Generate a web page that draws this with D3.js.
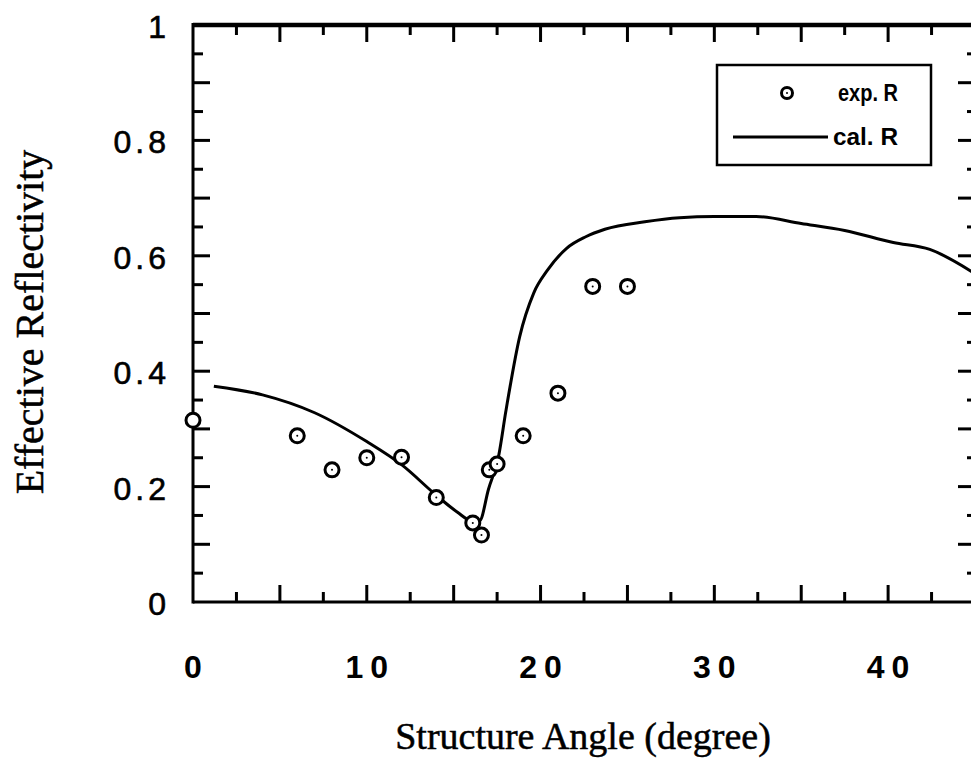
<!DOCTYPE html>
<html>
<head>
<meta charset="utf-8">
<script src="https://cdn.jsdelivr.net/npm/d3@7"></script>
<style>
  html, body { margin: 0; padding: 0; background: #fff; }
  svg { display: block; }
</style>
</head>
<body>
<svg id="chart" width="971" height="759"></svg>
<script>
// Measured reflectivity (circles)
const expAngle = [0, 6, 8, 10, 12, 14, 16.1, 16.6, 17.05, 17.5, 19, 21, 23, 25];
const expR     = [0.315, 0.288, 0.229, 0.250, 0.251, 0.181, 0.137, 0.116, 0.229, 0.239, 0.288, 0.362, 0.547, 0.547];

// Calculated reflectivity (solid line)
const calAngle = [1.2, 4, 7, 10, 12, 14, 15.2, 16.1, 16.5, 17.0, 17.6, 18.0, 18.8, 19.6, 20.4, 21.5, 22.6, 23.7, 26, 28, 30, 32.4, 35, 37.5, 40.3, 42.4, 45];
const calR     = [0.374, 0.359, 0.328, 0.278, 0.238, 0.185, 0.156, 0.140, 0.141, 0.195, 0.255, 0.330, 0.460, 0.535, 0.575, 0.613, 0.633, 0.646, 0.659, 0.666, 0.668, 0.668, 0.656, 0.644, 0.623, 0.611, 0.569];

// Axis ticks
const xTickLabels = [0, 10, 20, 30, 40];
const yTickLabels = [0, 0.2, 0.4, 0.6, 0.8, 1];
const legendLabels = ["exp. R", "cal. R"];

const svg = d3.select("#chart");
const plotLeft = 193, plotRight = 975, plotTop = 25, plotBottom = 602;

const x = d3.scaleLinear().domain([0, 45]).range([plotLeft, plotRight]);
const y = d3.scaleLinear().domain([0, 1]).range([plotBottom, plotTop]);

const ink = "#000";

// Frame
const frame = svg.append("g");
frame.append("line").attr("x1", plotLeft).attr("x2", plotRight + 2).attr("y1", plotTop).attr("y2", plotTop)
  .attr("stroke", ink).attr("stroke-width", 4.5);
frame.append("line").attr("x1", plotLeft).attr("x2", plotRight + 2).attr("y1", plotBottom).attr("y2", plotBottom)
  .attr("stroke", ink).attr("stroke-width", 3);
frame.append("line").attr("x1", plotLeft).attr("x2", plotLeft).attr("y1", plotTop - 2).attr("y2", plotBottom + 1.5)
  .attr("stroke", ink).attr("stroke-width", 3);
frame.append("line").attr("x1", plotRight).attr("x2", plotRight).attr("y1", plotTop - 2).attr("y2", plotBottom + 1.5)
  .attr("stroke", ink).attr("stroke-width", 3);

// Ticks: majors every 5 deg / 0.1, minors halfway
const xMinor = d3.range(0, 45.01, 2.5).filter(v => v > 0 && v < 45);
const yMinor = d3.range(0, 1.001, 0.05).map(v => +v.toFixed(2)).filter(v => v > 0 && v < 1);
const isXMajor = v => Math.abs(v / 5 - Math.round(v / 5)) < 1e-6;
const isYMajor = v => Math.abs(v * 10 - Math.round(v * 10)) < 1e-6;

const ticks = svg.append("g").attr("stroke", ink).attr("stroke-width", 3);
xMinor.forEach(v => {
  const len = isXMajor(v) ? 17 : 10;
  ticks.append("line").attr("x1", x(v)).attr("x2", x(v)).attr("y1", plotTop).attr("y2", plotTop + len);
  ticks.append("line").attr("x1", x(v)).attr("x2", x(v)).attr("y1", plotBottom).attr("y2", plotBottom - len);
});
yMinor.forEach(v => {
  const lenL = isYMajor(v) ? 17 : 10;
  const lenR = isYMajor(v) ? 17 : 8;
  ticks.append("line").attr("x1", plotLeft).attr("x2", plotLeft + lenL).attr("y1", y(v)).attr("y2", y(v));
  ticks.append("line").attr("x1", plotRight).attr("x2", plotRight - lenR).attr("y1", y(v)).attr("y2", y(v));
});

// Tick labels
const xLs = 7;
svg.append("g").selectAll("text").data(xTickLabels).join("text")
  .attr("x", d => x(d) + xLs / 2).attr("y", 678)
  .attr("text-anchor", "middle")
  .attr("font-family", "Liberation Sans, Arial, sans-serif")
  .attr("font-weight", "bold")
  .attr("font-size", 32)
  .attr("letter-spacing", xLs)
  .attr("fill", ink)
  .text(d => d);

const yLs = 4;
svg.append("g").selectAll("text").data(yTickLabels).join("text")
  .attr("x", 166 + yLs).attr("y", d => y(d) + 13)
  .attr("text-anchor", "end")
  .attr("font-family", "Liberation Sans, Arial, sans-serif")
  .attr("font-size", 32)
  .attr("stroke", ink)
  .attr("stroke-width", 0.6)
  .attr("letter-spacing", yLs)
  .attr("fill", ink)
  .text(d => d);

// Axis titles
svg.append("text")
  .attr("x", 583).attr("y", 749)
  .attr("text-anchor", "middle")
  .attr("font-family", "Liberation Serif, Times New Roman, serif")
  .attr("font-size", 38)
  .attr("stroke", ink)
  .attr("stroke-width", 0.5)
  .attr("fill", ink)
  .text("Structure Angle (degree)");

svg.append("text")
  .attr("transform", "translate(43,322) rotate(-90)")
  .attr("text-anchor", "middle")
  .attr("font-family", "Liberation Serif, Times New Roman, serif")
  .attr("font-size", 40)
  .attr("stroke", ink)
  .attr("stroke-width", 0.5)
  .attr("fill", ink)
  .text("Effective Reflectivity");

// Calculated curve
const calData = calAngle.map((a, i) => [a, calR[i]]);
const line = d3.line().x(d => x(d[0])).y(d => y(d[1])).curve(d3.curveMonotoneX);
svg.append("path")
  .datum(calData)
  .attr("d", line)
  .attr("fill", "none")
  .attr("stroke", ink)
  .attr("stroke-width", 3)
  .attr("stroke-linejoin", "round");

// Measured points
const expData = expAngle.map((a, i) => [a, expR[i]]);
const pts = svg.append("g");
pts.selectAll("circle.m").data(expData).join("circle")
  .attr("class", "m")
  .attr("cx", d => x(d[0])).attr("cy", d => y(d[1]))
  .attr("r", 7)
  .attr("fill", "#fff")
  .attr("stroke", ink)
  .attr("stroke-width", 3);
pts.selectAll("circle.c").data(expData.slice(1)).join("circle")
  .attr("class", "c")
  .attr("cx", d => x(d[0])).attr("cy", d => y(d[1]))
  .attr("r", 1)
  .attr("fill", ink);

// Legend
const lg = svg.append("g");
lg.append("rect").attr("x", 717).attr("y", 65).attr("width", 214).attr("height", 100)
  .attr("fill", "#fff").attr("stroke", ink).attr("stroke-width", 2.5);
lg.append("circle").attr("cx", 787).attr("cy", 93).attr("r", 5.5)
  .attr("fill", "#fff").attr("stroke", ink).attr("stroke-width", 3);
lg.append("circle").attr("cx", 787).attr("cy", 93).attr("r", 1).attr("fill", ink);
lg.append("line").attr("x1", 733).attr("x2", 828).attr("y1", 137).attr("y2", 137)
  .attr("stroke", ink).attr("stroke-width", 3);
lg.selectAll("text").data(legendLabels).join("text")
  .attr("x", (d, i) => i === 0 ? 838 : 833)
  .attr("y", (d, i) => i === 0 ? 101 : 145)
  .attr("font-family", "Liberation Sans, Arial, sans-serif")
  .attr("font-weight", "bold")
  .attr("font-size", 23)
  .attr("textLength", (d, i) => i === 0 ? 60 : 65)
  .attr("lengthAdjust", "spacingAndGlyphs")
  .attr("fill", ink)
  .text(d => d);
</script>
</body>
</html>
